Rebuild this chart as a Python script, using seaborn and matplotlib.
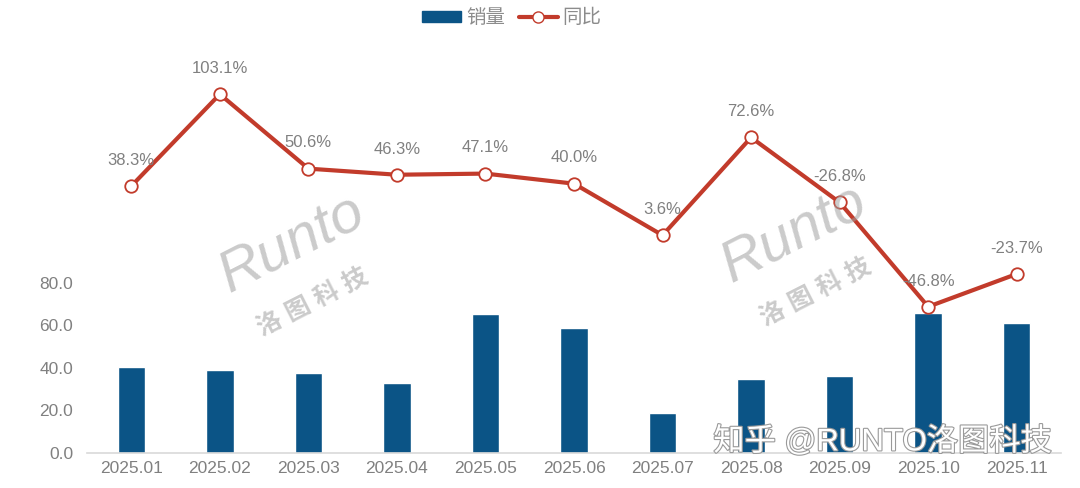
import numpy as np
import pandas as pd
import seaborn as sns
import matplotlib
matplotlib.use('Agg')
import matplotlib.pyplot as plt
from matplotlib.patches import Patch
from matplotlib.lines import Line2D
import matplotlib.patheffects as pe

# data
months = ['2025.01', '2025.02', '2025.03', '2025.04', '2025.05', '2025.06',
          '2025.07', '2025.08', '2025.09', '2025.10', '2025.11']
sales = [40.3, 38.9, 37.5, 32.9, 65.4, 58.9, 18.9, 34.6, 36.3, 65.9, 61.3]
yoy = [38.3, 103.1, 50.6, 46.3, 47.1, 40.0, 3.6, 72.6, 26.8, -46.8, -23.7]
yoy_labels = ['38.3%', '103.1%', '50.6%', '46.3%', '47.1%', '40.0%',
              '3.6%', '72.6%', '-26.8%', '-46.8%', '-23.7%']

bar_color = '#0b5486'
line_color = '#c23b2b'
text_gray = '#808080'
axis_gray = '#d9d9d9'

sns.set_style('white')
plt.rcParams['font.family'] = ['Liberation Sans', 'Noto Sans CJK SC', 'DejaVu Sans']

df = pd.DataFrame({'month': months, 'sales': sales, 'yoy': yoy})

fig = plt.figure(figsize=(10.8, 4.88), dpi=100)
ax = fig.add_axes([87 / 1080, 35 / 488, 974 / 1080, 404 / 488])

sns.barplot(data=df, x='month', y='sales', color=bar_color, width=0.31,
            saturation=1, ax=ax)
ax.set_ylim(0, 190)
ax.set_yticks([0, 20, 40, 60, 80])
ax.set_yticklabels([f'{v:.1f}' for v in [0, 20, 40, 60, 80]])
ax.set_xlim(-0.5, len(months) - 0.5)
ax.set_xlabel('')
ax.set_ylabel('')
for s in ['left', 'right', 'top']:
    ax.spines[s].set_visible(False)
ax.spines['bottom'].set_color(axis_gray)
ax.spines['bottom'].set_linewidth(1.2)
ax.tick_params(axis='both', which='major', length=0, labelsize=12.5,
               labelcolor=text_gray, pad=6)
ax.tick_params(axis='y', pad=10)
ax.set_xticks(np.arange(-0.5, len(months)), minor=True)
ax.tick_params(axis='x', which='minor', length=6, color=axis_gray, width=1.2)

# YoY line on a hidden secondary axis
ax2 = ax.twinx()
sns.lineplot(x=np.arange(len(months)), y=yoy, ax=ax2, color=line_color,
             linewidth=3, marker='o', markersize=9, markerfacecolor='white',
             markeredgecolor=line_color, markeredgewidth=1.3)
ax2.set_ylim(-150, 135)
ax2.set_yticks([])
for s in ax2.spines.values():
    s.set_visible(False)
for i, (v, lab) in enumerate(zip(yoy, yoy_labels)):
    ax2.annotate(lab, (i, v), xytext=(0, 18.5), textcoords='offset points',
                 ha='center', va='center', fontsize=12, color=text_gray)

# watermarks
for x0, y0 in [(0.27, 0.50), (0.735, 0.52)]:
    fig.text(x0, y0, 'Runto', fontsize=42, color='#a0a0a0', alpha=0.55,
             rotation=27, ha='center', va='center', style='italic')
    fig.text(x0 + 0.02, y0 - 0.12, '洛 图 科 技', fontsize=18, color='#a0a0a0',
             alpha=0.55, rotation=27, ha='center', va='center', weight='bold')
fig.text(1052 / 1080, 1 - 442 / 488, '知乎 @RUNTO洛图科技', fontsize=22.5,
         color='white', ha='right', va='center',
         path_effects=[pe.Stroke(linewidth=1.6, foreground='#9a9a9a'), pe.Normal()])

# legend
handles = [Patch(facecolor=bar_color, edgecolor=bar_color),
           Line2D([0], [0], color=line_color, linewidth=3, marker='o',
                  markersize=8, markerfacecolor='white',
                  markeredgecolor=line_color)]
leg = fig.legend(handles, ['销量', '同比'], loc='center', ncol=2,
                 bbox_to_anchor=(512 / 1080, 1 - 18 / 488), frameon=False,
                 fontsize=14, handlelength=2.0, handleheight=0.5,
                 columnspacing=0.7, handletextpad=0.25)
for t in leg.get_texts():
    t.set_color('#8c8c8c')

plt.savefig('out.png', dpi=100)
plt.close()
